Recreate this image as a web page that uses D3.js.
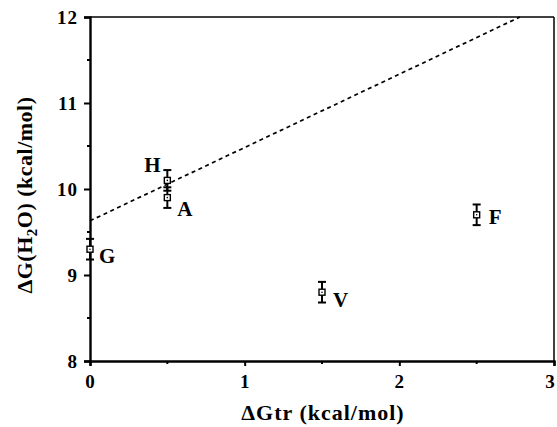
<!DOCTYPE html>
<html><head><meta charset="utf-8">
<script src="https://cdn.jsdelivr.net/npm/d3@7"></script>
<style>body{margin:0;background:#fff}svg{display:block}text{font-family:"Liberation Serif","Times New Roman",serif;font-weight:bold;fill:#000}</style>
</head><body>
<script>
const labels = ["G","H","A","V","F"];
const dGtr = [0, 0.5, 0.5, 1.5, 2.5];
const dGH2O = [9.3, 10.1, 9.9, 8.8, 9.7];
const errs = [0.12, 0.12, 0.12, 0.12, 0.12];
const fitLine = [[0, 9.63], [2.78, 12]];
const xTicks = [0, 1, 2, 3];
const yTicks = [8, 9, 10, 11, 12];
const xMinor = [0.5, 1.5, 2.5];
const yMinor = [8.5, 9.5, 10.5, 11.5];
const labelOffsets = {G:[9,14], H:[-23,-8], A:[10,18], V:[11,15], F:[12,9]};

const W = 557, H = 427;
const m = {l:90, r:3, t:17, b:66};
const svg = d3.select("body").append("svg").attr("width", W).attr("height", H);
const x = d3.scaleLinear().domain([0,3]).range([m.l, W - m.r]);
const y = d3.scaleLinear().domain([8,12]).range([H - m.b, m.t]);

// frame top/right
svg.append("line").attr("x1", x(0)).attr("x2", x(3)).attr("y1", y(12)).attr("y2", y(12)).attr("stroke","#000").attr("stroke-width",1.5);
svg.append("line").attr("x1", x(3)).attr("x2", x(3)).attr("y1", y(12)).attr("y2", y(8)).attr("stroke","#000").attr("stroke-width",1.5);

const xAxis = svg.append("g").attr("transform", `translate(0,${y(8)})`)
  .call(d3.axisBottom(x).tickValues(xTicks).tickFormat(d3.format("d")).tickSize(5).tickPadding(9));
const yAxis = svg.append("g").attr("transform", `translate(${x(0)},0)`)
  .call(d3.axisLeft(y).tickValues(yTicks).tickFormat(d3.format("d")).tickSize(6).tickPadding(6));
[xAxis, yAxis].forEach(g => {
  g.select(".domain").attr("stroke-width", 2.4);
  g.selectAll(".tick line").attr("stroke-width", 2);
  g.selectAll(".tick text").style("font-size", "19px").style("letter-spacing","1px")
    .style("font-family", '"Liberation Serif",serif').style("font-weight","bold");
});
xAxis.selectAll(".tick text").attr("dy", "0.71em").attr("dx", d => d === 3 ? -4 : 0);
// minor ticks
svg.append("g").selectAll("line").data(xMinor).join("line")
  .attr("x1", d => x(d)).attr("x2", d => x(d)).attr("y1", y(8)).attr("y2", y(8) + 3).attr("stroke","#000").attr("stroke-width",2);
svg.append("g").selectAll("line").data(yMinor).join("line")
  .attr("x1", x(0) - 3).attr("x2", x(0)).attr("y1", d => y(d)).attr("y2", d => y(d)).attr("stroke","#000").attr("stroke-width",2);

// dashed fit line
svg.append("line").attr("x1", x(fitLine[0][0])).attr("y1", y(fitLine[0][1]))
  .attr("x2", x(fitLine[1][0])).attr("y2", y(fitLine[1][1]))
  .attr("stroke","#000").attr("stroke-width",1.7).attr("stroke-dasharray","4,3.5");

// points
const pts = svg.append("g").selectAll("g").data(labels).join("g");
pts.append("line").attr("x1", (d,i) => x(dGtr[i])).attr("x2", (d,i) => x(dGtr[i]))
  .attr("y1", (d,i) => y(dGH2O[i] - errs[i])).attr("y2", (d,i) => y(dGH2O[i] + errs[i])).attr("stroke","#000").attr("stroke-width",2);
[1,-1].forEach(s => {
  pts.append("line").attr("x1", (d,i) => x(dGtr[i]) - 4).attr("x2", (d,i) => x(dGtr[i]) + 4)
    .attr("y1", (d,i) => y(dGH2O[i] + s*errs[i])).attr("y2", (d,i) => y(dGH2O[i] + s*errs[i])).attr("stroke","#000").attr("stroke-width",2);
});
pts.append("rect").attr("x", (d,i) => x(dGtr[i]) - 3).attr("y", (d,i) => y(dGH2O[i]) - 3)
  .attr("width", 6).attr("height", 6).attr("fill","#fff").attr("stroke","#000").attr("stroke-width",1.4);
pts.append("circle").attr("cx", (d,i) => x(dGtr[i])).attr("cy", (d,i) => y(dGH2O[i])).attr("r", 0.8).attr("fill","#000");
pts.append("text").attr("x", (d,i) => x(dGtr[i]) + labelOffsets[d][0]).attr("y", (d,i) => y(dGH2O[i]) + labelOffsets[d][1])
  .style("font-size","21px").text(d => d);

// axis titles
svg.append("text").attr("x", 323).attr("y", 420).attr("text-anchor","middle").style("font-size","22px").style("letter-spacing","1px")
  .text("ΔGtr (kcal/mol)");
const yt = svg.append("text").attr("transform", `translate(32,${(y(8)+y(12))/2 + 6}) rotate(-90)`).attr("text-anchor","middle")
  .style("font-size","22px").style("letter-spacing","0.5px");
yt.append("tspan").text("ΔG(H");
yt.append("tspan").attr("dy", 5).style("font-size","15px").text("2");
yt.append("tspan").attr("dy", -5).text("O) (kcal/mol)");
</script>
</body></html>
